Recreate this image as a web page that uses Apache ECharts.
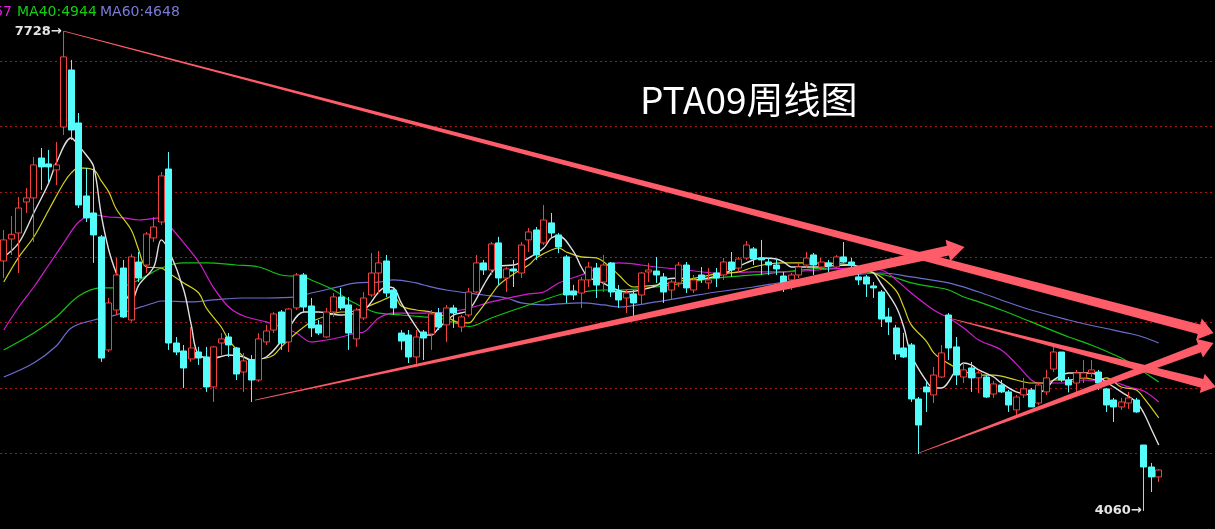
<!DOCTYPE html>
<html><head><meta charset="utf-8">
<script src="https://cdn.jsdelivr.net/npm/echarts@6/dist/echarts.min.js"></script>
<style>html,body{margin:0;padding:0;background:#000;overflow:hidden}#c{width:1215px;height:529px;}</style>
</head><body><div id="c"></div>
<script>
// ---- weekly candles (open, close, low, high) ----
const opens = [5971,6139,6185,6422,6453,6758,6713,6667,6995,7431, 7026,6468,6338,6155,5291,5596,5917,5520,5963,5940, 6147,6269,6674,5344,5283,5222,5275,5237,5008,5344, 5390,5306,5122,5214,5061,5352,5443,5581,5352,5612, 5864,5627,5482,5390,5581,5696,5635,5375,5535,5711, 5879,5971,5749,5420,5405,5237,5428,5413,5573,5482, 5612,5466,5558,5734,5956,5902,6109,5841,5910,5879, 6132,6208,6109,6262,6170,6002,5742,5726,5826,5917, 5810,5956,5742,5688,5719,5711,5887,5894,5849,5749, 5803,5940,5749,5864,5803,5879,5864,5963,5917,5994, 6063,5994,5963,5940,5856,5826,5864,5940,6017,5925, 5956,5925,6002,5963,5849,5849,5780,5734,5543,5459, 5306,5329,4916,5008,4947,5084,5558,5314,5084,5153, 5077,5084,4954,5023,4970,4832,4947,4985,4885,4970, 5145,5275,5061,5038,5077,5115,5122,4993,4908,4855, 4885,4908,4564,4396,4320];
const closes = [6132,6175,6376,6453,6705,6690,6690,6705,7531,6972, 6399,6300,6170,5229,5650,5864,5543,6002,5841,6177, 6231,6621,5344,5275,5153,5306,5229,5008,5314,5375, 5329,5107,5207,5061,5375,5436,5566,5344,5604,5864, 5619,5459,5420,5581,5696,5612,5420,5596,5688,5879, 5956,5726,5612,5359,5237,5390,5382,5566,5466,5612, 5573,5543,5734,5956,5902,6101,5841,5910,5894,6093, 6193,6017,6284,6185,6078,5711,5711,5826,5925,5787, 5940,5734,5673,5726,5650,5879,5902,5864,5734,5810, 5940,5765,5826,5833,5826,5841,5963,5902,5986,6093, 5986,5979,5940,5910,5803,5864,5925,5994,5940,5963, 5933,6002,5963,5940,5826,5795,5765,5527,5505,5260, 5237,4916,4717,4970,5099,5268,5306,5099,5138,5077, 5115,4931,5031,4970,4870,4931,4993,4855,5023,5077, 5275,5061,5023,5115,5115,5138,5038,4870,4855,4893, 4924,4817,4396,4320,4373];
const lows = [5841,6017,5879,6338,6116,6514,6575,6552,6934,6896, 6376,6269,5956,5199,5275,5558,5535,5505,5810,5879, 6116,6246,5291,5252,5000,5199,5176,4970,4893,5252, 5237,5061,4970,4893,5046,5329,5420,5291,5275,5596, 5573,5390,5405,5382,5543,5596,5291,5314,5520,5696, 5726,5696,5558,5291,5191,5161,5214,5291,5443,5352, 5459,5428,5543,5726,5864,5864,5788,5734,5772,5841, 6040,5979,6093,6155,6032,5650,5673,5612,5772,5688, 5734,5696,5612,5573,5543,5635,5810,5803,5650,5673, 5772,5726,5726,5803,5757,5772,5826,5849,5879,5979, 5940,5864,5864,5864,5734,5749,5841,5917,5864,5902, 5887,5917,5956,5925,5787,5696,5688,5466,5405,5214, 5229,4893,4495,4817,4885,5077,5214,5023,5038,4970, 4962,4924,4924,4962,4817,4794,4924,4855,4870,4947, 5122,5046,4966,4970,5038,5084,4985,4817,4740,4832, 4840,4810,4060,4205,4281];
const highs = [6208,6315,6460,6529,6766,6835,6820,6881,7728,7508, 7102,6682,6682,6170,5688,5994,5979,6025,6040,6193, 6307,6651,6804,5390,5329,5466,5314,5314,5320,5420, 5420,5314,5268,5252,5420,5482,5581,5596,5612,5879, 5879,5688,5520,5612,5726,5765,5696,5612,5734,6032, 6047,6017,5772,5443,5443,5443,5443,5596,5612,5635, 5635,5558,5765,6017,5979,6116,6155,5925,5979,6116, 6223,6231,6399,6338,6185,6017,5788,5849,5963,5956, 6017,5963,5787,5749,5749,5887,5956,6002,5879,5826, 5963,5963,5864,5925,5917,5917,5994,6040,6002,6124, 6078,6132,5994,5979,5887,5879,5956,6040,6032,5994, 5979,6017,6116,5994,5879,5864,5810,5749,5612,5482, 5421,5344,4931,5046,5161,5329,5573,5390,5191,5199, 5138,5099,5054,5061,4985,4947,5077,5000,5046,5138, 5314,5275,5084,5138,5214,5214,5138,5000,4924,4924, 4970,4924,4564,4427,4380];

// ---- moving averages (week index, value) ----
const ma5Idx = [0,2,4,6,7,9,10,11,12,13,14,15,16,17,18,20,21,22,24,25,26,28,30,32,33,35,37,38,40,42,45,48,50,51,52,53,55,56,57,58,60,62,64,65,66,68,70,72,73,74,76,77,78,79,83,87,88,90,92,94,96,97,99,101,103,104,105,108,110,113,115,116,117,119,120,121,123,124,125,127,128,129,130,132,133,135,137,139,140,142,143,145,147,148,149,151,152,153,154];
const ma5Val = [6001,6109,6338,6567,6720,6911,6850,6781,6690,6323,6055,5879,5749,5658,5787,5925,6132,6055,5749,5482,5252,5229,5252,5237,5214,5237,5359,5459,5581,5581,5558,5596,5734,5772,5764,5650,5466,5405,5405,5459,5558,5596,5787,5879,5933,5940,5994,6070,6147,6162,6040,5925,5841,5826,5734,5780,5826,5841,5826,5841,5872,5902,5956,5994,5986,5963,5925,5925,5933,5940,5902,5879,5795,5619,5466,5252,5054,5000,5000,5138,5191,5176,5138,5084,5038,4970,4947,4993,5061,5115,5115,5115,5046,5008,4970,4893,4809,4687,4564];
const ma10Idx = [0,2,4,6,8,9,10,12,13,14,15,17,18,19,21,22,24,26,27,29,30,32,33,35,36,37,39,41,43,45,46,48,50,52,53,55,57,59,61,62,63,65,66,68,70,71,73,74,75,77,79,81,82,84,87,89,91,93,95,98,100,102,104,108,113,116,117,119,120,121,123,124,125,127,128,129,130,132,135,137,139,140,142,144,146,147,149,151,152,154];
const ma10Val = [5810,6001,6154,6361,6567,6644,6682,6667,6583,6499,6368,6208,6055,5925,5917,5879,5803,5726,5612,5466,5367,5237,5214,5229,5252,5314,5421,5505,5550,5581,5581,5612,5658,5703,5627,5596,5581,5543,5497,5497,5558,5711,5787,5872,5940,5994,6055,6070,6040,6002,5994,5917,5864,5772,5787,5803,5826,5849,5872,5887,5925,5948,5956,5956,5940,5879,5849,5742,5619,5482,5359,5268,5222,5153,5122,5115,5099,5099,5061,5038,5038,5061,5061,5077,5061,5077,5008,4985,4924,4771];
const ma20Idx = [0,2,4,6,8,10,12,14,16,18,21,22,24,26,28,30,32,35,37,39,41,43,45,47,48,50,52,56,61,65,70,72,74,77,79,82,87,91,95,100,104,113,117,119,121,124,126,128,130,133,135,137,138,141,144,148,150,152,154];
const ma20Val = [5443,5619,5772,5940,6109,6269,6323,6307,6300,6284,6300,6246,6109,5963,5765,5619,5550,5505,5466,5421,5352,5367,5390,5421,5428,5535,5573,5573,5596,5658,5719,5734,5803,5864,5910,5956,5925,5902,5879,5887,5887,5917,5902,5826,5726,5596,5535,5459,5367,5291,5184,5061,5038,5038,5061,5046,5008,4977,4893];
const ma40Idx = [0,4,7,10,13,15,18,21,24,27,31,34,37,40,41,44,46,49,50,53,56,58,61,62,65,68,72,75,77,80,82,87,91,95,100,104,110,116,119,121,124,126,128,130,133,137,142,145,149,151,154];
const ma40Val = [5291,5420,5543,5703,5765,5765,5826,5917,5956,5956,5940,5925,5864,5849,5826,5749,5673,5589,5573,5558,5543,5535,5482,5470,5535,5596,5673,5726,5734,5749,5749,5772,5803,5841,5864,5887,5917,5879,5841,5803,5772,5749,5696,5658,5596,5505,5390,5329,5229,5161,5046];
const ma60Idx = [0,4,7,9,12,14,17,20,21,25,28,32,35,39,41,44,47,50,52,55,56,59,64,67,69,72,74,77,80,82,87,91,95,100,104,108,113,117,121,126,130,133,137,142,146,151,154];
const ma60Val = [5084,5191,5321,5459,5520,5543,5596,5650,5665,5658,5673,5688,5688,5696,5726,5765,5803,5810,5826,5803,5787,5749,5711,5688,5650,5635,5643,5650,5635,5619,5658,5696,5734,5772,5810,5841,5864,5879,5849,5803,5734,5673,5596,5520,5466,5405,5344];

// ---- legend readout, price levels, hand-drawn trend lines (week index, price) ----
const legendItems = [['MA20', 4957], ['MA40', 4944], ['MA60', 4648]];
const priceLevels = [4500, 5000, 5500, 6000, 6500, 7000, 7500];
const trendLines = [
  [8, 7728, 161.3, 5420],
  [33.5, 4908, 128.1, 6078],
  [126, 5535, 161.6, 5008],
  [122, 4503, 161.3, 5344]
];
const titleText = 'PTA09周线图';

// ---- build ----
const SLOTS = 162;
const categories = [];
for (let i = 0; i < SLOTS; i++) categories.push(String(i + 1));
const candleData = opens.map((o, i) => [o, closes[i], lows[i], highs[i]]);
const pairs = (ix, vs) => ix.map((x, k) => [x, vs[k]]);

let hiIdx = 0, loIdx = 0;
highs.forEach((h, i) => { if (h > highs[hiIdx]) hiIdx = i; });
lows.forEach((l, i) => { if (l < lows[loIdx]) loIdx = i; });

const trendStyle = [
  {w1: 0.8, w2: 10, head: 15, half: 11},
  {w1: 0.8, w2: 10, head: 17, half: 11},
  {w1: 0.6, w2: 9, head: 14, half: 10},
  {w1: 0.6, w2: 8.5, head: 15, half: 10}
];
const TREND_COLOR = '#ff5c6a';

function renderTrend(params, api) {
  const s = trendStyle[params.dataIndex];
  const p1 = api.coord([api.value(0), api.value(1)]);
  const p2 = api.coord([api.value(2), api.value(3)]);
  const dx = p2[0] - p1[0], dy = p2[1] - p1[1];
  const len = Math.sqrt(dx * dx + dy * dy);
  const ux = dx / len, uy = dy / len, nx = -uy, ny = ux;
  const bx = p2[0] - ux * s.head, by = p2[1] - uy * s.head;
  const pts = [
    [p1[0] + nx * s.w1 / 2, p1[1] + ny * s.w1 / 2],
    [bx + nx * s.w2 / 2, by + ny * s.w2 / 2],
    [bx + nx * s.half, by + ny * s.half],
    [p2[0], p2[1]],
    [bx - nx * s.half, by - ny * s.half],
    [bx - nx * s.w2 / 2, by - ny * s.w2 / 2],
    [p1[0] - nx * s.w1 / 2, p1[1] - ny * s.w1 / 2]
  ];
  return {type: 'polygon', shape: {points: pts}, style: {fill: TREND_COLOR}};
}

const maSeries = (name, ix, vs, color, w) => ({
  name, type: 'line', xAxisIndex: 1, yAxisIndex: 0,
  data: pairs(ix, vs), showSymbol: false, symbol: 'none', smooth: 0.35,
  lineStyle: {color, width: w}, z: 3, silent: true
});

const legendColors = {MA20: '#e020e0', MA40: '#10d010', MA60: '#7a7ad8'};
const legendX = [null, 17, 100];
const graphics = [
  {type: 'text', left: 640, top: 81, style: {text: titleText, fill: '#ffffff', fontSize: 37, fontFamily: '"Noto Sans CJK SC", sans-serif'}}
];
legendItems.forEach((it, k) => {
  const txt = it[0] + ':' + it[1];
  graphics.push({type: 'text', x: k === 0 ? 12 : legendX[k], y: 12, style: {text: txt, fill: legendColors[it[0]], fontSize: 14, fontFamily: '"DejaVu Sans"', align: k === 0 ? 'right' : 'left', verticalAlign: 'middle'}});
});

const markLabel = {show: true, position: 'left', distance: 1, color: '#e4e4e4', fontSize: 13, fontWeight: 'bold', fontFamily: '"DejaVu Sans", sans-serif'};

const option = {
  backgroundColor: '#000000',
  animation: false,
  grid: {left: 0, right: 0, top: 0, bottom: 0},
  xAxis: [
    {type: 'category', data: categories, boundaryGap: true, show: false},
    {type: 'value', min: -0.5, max: SLOTS - 0.5, show: false}
  ],
  yAxis: [{type: 'value', min: 3922, max: 7966, show: false, splitLine: {show: false}}],
  graphic: graphics,
  series: [
    {
      name: 'K', type: 'candlestick', xAxisIndex: 0, yAxisIndex: 0,
      data: candleData, barWidth: 6.5, z: 4,
      itemStyle: {color: '#000000', color0: '#54fcfc', borderColor: '#f2403c', borderColor0: '#54fcfc', borderWidth: 1},
      markLine: {
        silent: true, symbol: ['none', 'none'], z: 1,
        label: {show: false},
        lineStyle: {type: [2, 3], color: '#a8141a', width: 1},
        data: priceLevels.map(v => ({yAxis: v}))
      },
      markPoint: {
        symbol: 'circle', symbolSize: 2, itemStyle: {color: 'rgba(0,0,0,0)'},
        data: [
          {coord: [hiIdx, highs[hiIdx]], value: highs[hiIdx], label: Object.assign({}, markLabel, {formatter: highs[hiIdx] + '→'})},
          {coord: [loIdx, lows[loIdx]], value: lows[loIdx], label: Object.assign({}, markLabel, {formatter: lows[loIdx] + '→'})}
        ]
      }
    },
    maSeries('MA60', ma60Idx, ma60Val, '#6c6cd0', 1.2),
    maSeries('MA40', ma40Idx, ma40Val, '#12c412', 1.2),
    maSeries('MA20', ma20Idx, ma20Val, '#d41cd4', 1.2),
    maSeries('MA10', ma10Idx, ma10Val, '#d2d21e', 1.2),
    maSeries('MA5', ma5Idx, ma5Val, '#e0e0e0', 1.4),
    {
      name: 'trend', type: 'custom', xAxisIndex: 1, yAxisIndex: 0,
      coordinateSystem: 'cartesian2d', renderItem: renderTrend,
      encode: {x: [0, 2], y: [1, 3]}, data: trendLines, z: 6, silent: true, clip: false
    }
  ]
};
const chart = echarts.init(document.getElementById('c'), null, {renderer: 'canvas'});
chart.setOption(option);
</script>
</body></html>
